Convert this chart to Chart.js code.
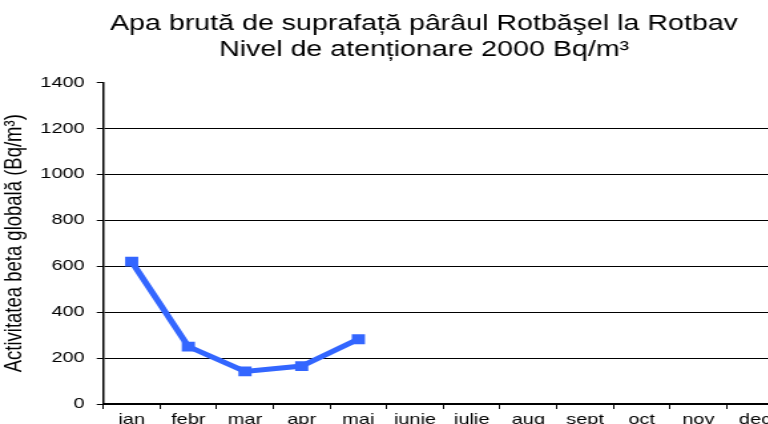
<!DOCTYPE html>
<html>
<head>
<meta charset="utf-8">
<script src="https://cdn.jsdelivr.net/npm/chart.js@4"></script>
<style>
  html, body { margin: 0; padding: 0; background: #fff; overflow: hidden; }
  /* source picture is stretched horizontally, so stretch the canvas the same way */
  #chart { display: block; transform: scaleX(1.33); transform-origin: 0 0; }
</style>
</head>
<body>
<canvas id="chart" width="638" height="440"></canvas>
<script>
const titleLines = ['Apa brută de suprafață pârâul Rotbăşel la Rotbav', 'Nivel de atenționare 2000 Bq/m³'];
const yTitle = 'Activitatea beta globală (Bq/m³)';
const months = ['ian', 'febr', 'mar', 'apr', 'mai', 'iunie', 'iulie', 'aug', 'sept', 'oct', 'nov', 'dec'];
const betaValues = [620, 250, 142, 165, 282, null, null, null, null, null, null, null];
const yTicks = [0, 200, 400, 600, 800, 1000, 1200, 1400];

const font = 'Liberation Sans, Arial, sans-serif';

// layout padding on the left centres the main title like the original;
// afterwards give the y axis the whole left strip back so its labels are not clipped
const yAxisToEdge = {
  id: 'yAxisToEdge',
  afterLayout(chart) {
    chart.scales.y.left = 0;
    chart.scales.y.width = chart.scales.y.right;
  },
};

new Chart(document.getElementById('chart'), {
  type: 'line',
  data: {
    labels: months,
    datasets: [{
      data: betaValues,
      borderColor: '#3366ff',
      backgroundColor: '#3366ff',
      borderWidth: 5,
      pointStyle: 'rect',
      pointRadius: 7,
      pointBorderWidth: 0,
      pointBackgroundColor: '#3366ff',
      tension: 0,
      spanGaps: false,
    }],
  },
  options: {
    responsive: false,
    animation: false,
    layout: { padding: { left: 48.6, right: 49, top: 0, bottom: 0 } },
    plugins: {
      legend: { display: false },
      tooltip: { enabled: false },
      title: {
        display: true,
        text: titleLines,
        color: '#000',
        font: { family: font, size: 21.5, weight: 'normal', lineHeight: 1.22 },
        padding: { top: 11, bottom: 19 },
      },
    },
    scales: {
      x: {
        offset: true,
        afterFit: (s) => { s.height = 36; },
        grid: { drawOnChartArea: false, drawTicks: true, tickLength: 5, color: '#000', offset: true },
        border: { display: true, color: '#000', width: 2 },
        ticks: { color: '#000', padding: 2, maxRotation: 0, autoSkip: false, font: { family: font, size: 15 } },
      },
      y: {
        min: yTicks[0],
        max: yTicks[yTicks.length - 1],
        afterFit: (s) => { s.width = 29.1; },
        afterBuildTicks: (s) => { s.ticks = yTicks.map(v => ({ value: v })); },
        grid: {
          color: (ctx) => ctx.tick && ctx.tick.value === 1400 ? 'rgba(0,0,0,0)' : '#000',
          tickColor: '#000',
          tickLength: 5,
          lineWidth: 1,
        },
        border: { display: true, color: '#000', width: 1.5 },
        ticks: {
          color: '#000',
          padding: 9,
          font: { family: font, size: 15 },
          callback: (v) => String(v),
        },
        title: {
          display: true,
          text: yTitle,
          color: '#000',
          padding: { top: 0, bottom: 0 },
          font: { family: font, size: 18.5 },
        },
      },
    },
  },
  plugins: [yAxisToEdge],
});
</script>
</body>
</html>
